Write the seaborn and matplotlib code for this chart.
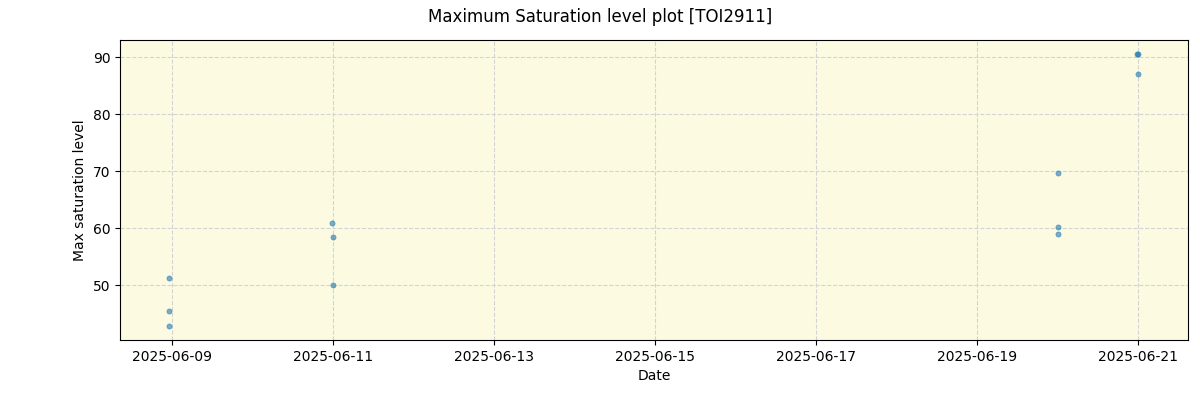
import pandas as pd
import matplotlib.pyplot as plt
import matplotlib.dates as mdates
import seaborn as sns

# Data
dates = [
    "2025-06-08 23:05", "2025-06-08 23:10", "2025-06-08 23:15",
    "2025-06-10 23:50", "2025-06-10 23:55", "2025-06-11 00:05",
    "2025-06-20 00:05", "2025-06-20 00:10", "2025-06-20 00:15",
    "2025-06-20 23:55", "2025-06-21 00:00", "2025-06-21 00:05",
]
saturation = [51.2, 45.4, 42.8, 60.9, 58.4, 50.0, 69.6, 60.2, 58.9, 90.5, 90.6, 87.0]

df = pd.DataFrame({"Date": pd.to_datetime(dates), "Max saturation level": saturation})

fig, ax = plt.subplots(figsize=(12, 4), dpi=100)
ax.set_facecolor("#fcfbe2")
sns.scatterplot(data=df, x="Date", y="Max saturation level", ax=ax,
                s=14, alpha=0.6, color="tab:blue", edgecolor="tab:blue", linewidth=0.5)
ax.grid(True, linestyle="--", color="lightgray", linewidth=0.8)
ax.set_axisbelow(True)
ax.set_xlim(pd.Timestamp("2025-06-08 08:30"), pd.Timestamp("2025-06-21 15:00"))
ax.set_ylim(40.4, 93.0)
ax.xaxis.set_major_locator(mdates.DayLocator(interval=2))
ax.xaxis.set_major_formatter(mdates.DateFormatter("%Y-%m-%d"))
fig.suptitle("Maximum Saturation level plot [TOI2911]")
fig.subplots_adjust(left=0.1, right=0.99, top=0.9, bottom=0.15)
fig.savefig("out.png")
